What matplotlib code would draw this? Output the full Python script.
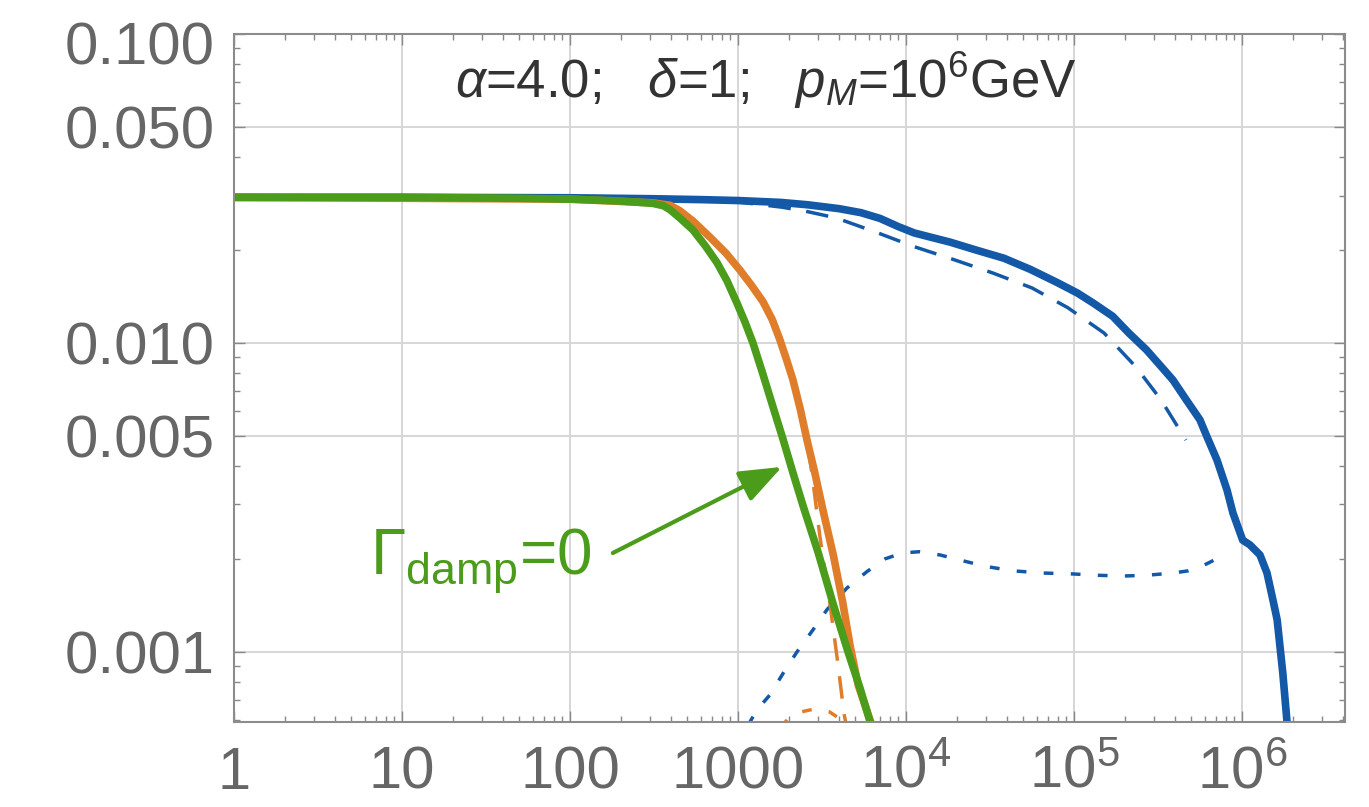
import matplotlib
matplotlib.use("Agg")
import matplotlib.pyplot as plt
import matplotlib.transforms as mtransforms
from matplotlib.ticker import FixedLocator, FixedFormatter, LogLocator, NullFormatter

plt.rcParams['font.family'] = ['Liberation Sans', 'DejaVu Sans']
plt.rcParams['mathtext.fontset'] = 'custom'
plt.rcParams['mathtext.rm'] = 'Liberation Sans'
plt.rcParams['mathtext.it'] = 'Liberation Sans:italic'
plt.rcParams['mathtext.bf'] = 'Liberation Sans:bold'

BLUE = '#1459a8'
ORANGE = '#e07d2a'
GREEN = '#4b9c1a'

# full spectrum (blue)
blue_x = [1, 10, 100, 300, 600, 1000, 1800, 2600, 4000, 5400, 7000, 9000, 11200, 14000,
          18300, 26000, 38300, 55000, 79200, 105000, 130000, 170000, 212000, 270000,
          344000, 388000, 470000, 562000, 619000, 710000, 815000, 883000, 1.01e6, 1.116e6,
          1.28e6, 1.41e6, 1.53e6, 1.62e6, 1.75e6, 1.85e6, 1.9e6]
blue_y = [0.0296, 0.0296, 0.0295, 0.0293, 0.0291, 0.0289, 0.0285, 0.0280, 0.0272, 0.0264,
          0.0253, 0.0238, 0.0227, 0.0220, 0.0212, 0.0200, 0.0188, 0.0173, 0.0157, 0.0145,
          0.01347, 0.0122, 0.01077, 0.0095, 0.00818, 0.00759, 0.0065, 0.00564, 0.00497,
          0.00418, 0.00334, 0.00282, 0.0023, 0.00222, 0.00206, 0.0018, 0.00147, 0.00127,
          0.000855, 0.000603, 0.0005]

blue_dash_x = [1, 100, 600, 1000, 1828, 2600, 3830, 6530, 11170, 19300, 33000, 56200,
               92000, 151000, 234000, 330000, 464000]
blue_dash_y = [0.0296, 0.0295, 0.0290, 0.0286, 0.0275, 0.0266, 0.0254, 0.0229, 0.0205,
               0.0186, 0.01683, 0.01507, 0.0130, 0.01077, 0.00836, 0.00654, 0.00485]

blue_dot_x = [1150, 1300, 1550, 1850, 2245, 2800, 3388, 4454, 5865, 7500, 9500, 12000,
              15920, 22000, 30000, 43300, 65000, 94600, 140000, 193000, 270000, 388000,
              480000, 562000, 680000, 792000]
blue_dot_y = [0.00058, 0.00065, 0.000726, 0.00085, 0.001, 0.00118, 0.00137, 0.00161,
              0.00182, 0.0020, 0.00209, 0.00211, 0.00206, 0.00197, 0.00189, 0.00183,
              0.0018, 0.00179, 0.00177, 0.00176, 0.00177, 0.0018, 0.00183, 0.00188,
              0.00198, 0.00211]

# orange
orange_x = [1, 100, 311, 394, 450, 540, 681, 850, 1028, 1200, 1409, 1600, 1778, 1950,
            2125, 2350, 2576, 2870, 3205, 3700, 4200, 4645, 5200, 6000, 6400]
orange_y = [0.0296, 0.0292, 0.0284, 0.0279, 0.0268, 0.0248, 0.0220, 0.0195, 0.0172,
            0.0154, 0.0136, 0.0119, 0.01023, 0.0088, 0.00759, 0.0061, 0.00485, 0.00379,
            0.00288, 0.00205, 0.00145, 0.00105, 0.00078, 0.00062, 0.00056]

orange_dash_x = [1, 100, 311, 394, 681, 1028, 1409, 1778, 2125, 2576, 2756, 3076, 3500,
                 3940, 4280, 4500]
orange_dash_y = [0.0296, 0.0292, 0.0284, 0.0279, 0.0219, 0.0171, 0.0136, 0.0101, 0.0075,
                 0.0048, 0.00379, 0.00236, 0.00148, 0.00091, 0.00063, 0.00055]

orange_dot_x = [1800, 2000, 2400, 2900, 3500, 4000, 4500, 5000]
orange_dot_y = [0.00057, 0.00061, 0.00064, 0.000655, 0.00064, 0.00061, 0.00057, 0.00054]

# green (no damping)
green_x = [1, 10, 50, 100, 200, 311, 360, 394, 450, 540, 640, 750, 860, 986, 1100, 1228,
           1400, 1616, 1850, 2125, 2450, 3000, 3700, 4520, 5300, 6200, 6600]
green_y = [0.0296, 0.0296, 0.0294, 0.0292, 0.0288, 0.0283, 0.0278, 0.0270, 0.0254,
           0.0232, 0.0206, 0.0182, 0.0159, 0.01347, 0.0117, 0.0100, 0.0080, 0.00621,
           0.0049, 0.0038, 0.00295, 0.0021, 0.00142, 0.0010, 0.00077, 0.00058, 0.00053]

x_ticks = [1, 10, 100, 1000, 1e4, 1e5, 1e6]
x_labels = ['1', '10', '100', '1000', r'$10^{4}$', r'$10^{5}$', r'$10^{6}$']
y_ticks = [0.001, 0.005, 0.01, 0.05, 0.1]
y_labels = ['0.001', '0.005', '0.010', '0.050', '0.100']

fig = plt.figure(figsize=(13.69, 8.07), dpi=100)
ax = fig.add_axes([0.1709, 0.1053, 0.8115, 0.8526])
ax.set_xscale('log')
ax.set_yscale('log')

thin = 2.5
ax.plot(blue_dot_x, blue_dot_y, color=BLUE, lw=thin, dashes=(2.8, 5))
ax.plot(orange_dot_x, orange_dot_y, color=ORANGE, lw=thin, dashes=(2.8, 5))
ax.plot(blue_dash_x, blue_dash_y, color=BLUE, lw=thin, dashes=(6.5, 4.5))
ax.plot(orange_dash_x, orange_dash_y, color=ORANGE, lw=thin, dashes=(6.5, 4.5))

thick = 5.5
ax.plot(blue_x, blue_y, color=BLUE, lw=thick, solid_capstyle='butt')
ax.plot(orange_x, orange_y, color=ORANGE, lw=thick, solid_capstyle='butt')
ax.plot(green_x, green_y, color=GREEN, lw=thick, solid_capstyle='butt')

ax.set_xlim(1, 4.1e6)
ax.set_ylim(0.000593, 0.1)

ax.xaxis.set_major_locator(FixedLocator(x_ticks))
ax.xaxis.set_major_formatter(FixedFormatter(x_labels))
ax.xaxis.set_minor_locator(LogLocator(base=10, subs=range(2, 10), numticks=20))
ax.xaxis.set_minor_formatter(NullFormatter())
ax.yaxis.set_major_locator(FixedLocator(y_ticks))
ax.yaxis.set_major_formatter(FixedFormatter(y_labels))
ax.yaxis.set_minor_locator(LogLocator(base=10, subs=range(1, 10), numticks=20))
ax.yaxis.set_minor_formatter(NullFormatter())

ax.grid(True, which='major', color='#d6d6d6', lw=1.4)
ax.set_axisbelow(True)

ax.tick_params(which='both', direction='in', top=True, right=True, color='#888888',
               width=1.0, labelcolor='#666666', labelsize=43)
ax.tick_params(which='major', length=8)
ax.tick_params(which='minor', length=4.5)
ax.tick_params(axis='y', pad=14)
ax.tick_params(axis='x', pad=17)
for s in ax.spines.values():
    s.set_color('#8c8c8c')
    s.set_linewidth(1.5)

# nudge the top y label down so it sits inside the frame
top_label = ax.yaxis.get_major_ticks()[-1].label1
top_label.set_transform(top_label.get_transform() +
                        mtransforms.ScaledTranslation(0, -6.5 / 72, fig.dpi_scale_trans))

ax.text(0.199, 0.907, r'$\alpha$=4.0;   $\delta$=1;   $p_M$=$10^6$GeV',
        transform=ax.transAxes, ha='left', va='baseline', fontsize=38, color='#333333')

ax.text(6.45, 0.001775, r'$\Gamma_{\mathrm{damp}}$=0', ha='left', va='baseline',
        fontsize=46, color=GREEN)
ax.annotate('', xy=(1828, 0.00397), xytext=(180, 0.00209),
            arrowprops=dict(arrowstyle='-|>,head_length=0.65,head_width=0.25',
                            color=GREEN, lw=3, mutation_scale=40,
                            shrinkA=0, shrinkB=0))

fig.savefig('out.png', dpi=100)
